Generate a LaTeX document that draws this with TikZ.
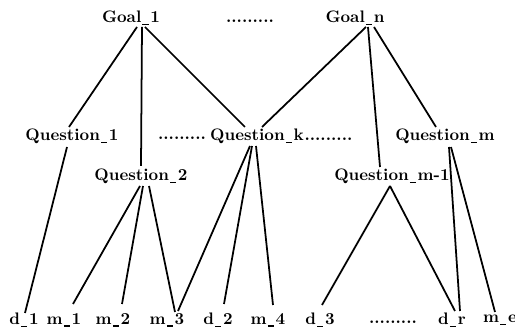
\documentclass[tikz,border=0pt]{standalone}
\usetikzlibrary{calc}
% short underscore as in the printed labels
\newcommand{\us}{\kern0.6pt\rule[-1.6pt]{3.6pt}{0.8pt}\kern0.9pt}

\begin{document}
\begin{tikzpicture}[
    x=0.02cm, y=-0.02cm,
    lbl/.style={inner sep=1pt, font=\bfseries\fontsize{9.5}{11}\selectfont},
    gap/.style={inner sep=1pt, font=\bfseries\fontsize{9.5}{11}\selectfont},
    link/.style={line width=1pt},
    font=\small
  ]
  \useasboundingbox (0,0) rectangle (515,330);

  % goals
  \node[lbl] (g1) at (131,18) {Goal\us 1};
  \node[gap, anchor=base] (gdots) at (250,23) {.........};
  \node[lbl] (gn) at (355,18) {Goal\us n};

  % questions
  \node[lbl] (q1) at (72,136) {Question\us 1};
  \node[gap, anchor=base] (qdotsa) at (182,140) {.........};
  \node[lbl] (qk) at (257,136) {Question\us k};
  \node[gap, anchor=base west, inner sep=0pt, xshift=-1pt] (qdotsb) at (qk.base east) {.........};
  \node[lbl] (qm) at (445,136) {Question\us m};
  \node[lbl] (q2) at (141,176) {Question\us 2};
  \node[lbl] (qm1) at (392,176) {Question\us m-1};

  % metrics / data
  \node[lbl] (d1) at (24,320) {d\us 1};
  \node[lbl] (m1) at (64,320) {m\us 1};
  \node[lbl] (m2) at (113,320) {m\us 2};
  \node[lbl] (m3) at (167,320) {m\us 3};
  \node[lbl] (d2) at (218,320) {d\us 2};
  \node[lbl] (m4) at (268,320) {m\us 4};
  \node[lbl] (d3) at (320,320) {d\us 3};
  \node[gap, anchor=base] (bdots) at (393,324) {.........};
  \node[lbl] (dr) at (452,320) {d\us r};
  \node[lbl] (me) at (500,320) {m\us e};

  % goal to question
  \draw[link] ($(g1)+(6,9)$) -- ($(q1)+(-3,-9)$);
  \draw[link] ($(g1)+(11,9)$) -- ($(q2)+(0,-10)$);
  \draw[link] ($(g1)+(14,9)$) -- ($(qk)+(-12,-9)$);
  \draw[link] ($(gn)+(11,9)$) -- ($(qk)+(5,-9)$);
  \draw[link] ($(gn)+(13,9)$) -- ($(qm1)+(-12,-9)$);
  \draw[link] ($(gn)+(19,9)$) -- ($(qm)+(-9,-9)$);

  % question to metric
  \draw[link] ($(q1)+(-5,11)$) -- ($(d1)+(1,-7)$);
  \draw[link] ($(q2)+(-1,10)$) -- ($(m1)+(9,-16)$);
  \draw[link] ($(q2)+(2,10)$) -- ($(m2)+(9,-16)$);
  \draw[link] ($(q2)+(8,10)$) -- ($(m3)+(8,-8)$);
  \draw[link] ($(qk)+(-7,10)$) -- ($(m3)+(11,-9)$);
  \draw[link] ($(qk)+(-5,10)$) -- ($(d2)+(6,-16)$);
  \draw[link] ($(qk)+(-1,10)$) -- ($(m4)+(5,-15)$);
  \draw[link] ($(qm1)+(-2,10)$) -- ($(d3)+(2,-15)$);
  \draw[link] ($(qm1)+(-2,10)$) -- ($(dr)+(3,-9)$);
  \draw[link] ($(qm)+(4,11)$) -- ($(dr)+(8,-9)$);
  \draw[link] ($(qm)+(6,11)$) -- ($(me)+(-5,-8)$);
\end{tikzpicture}
\end{document}
